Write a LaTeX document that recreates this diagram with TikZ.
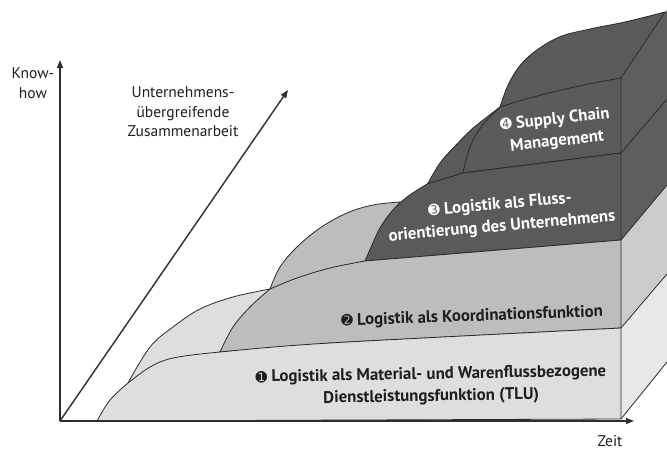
\documentclass[tikz,border=0pt]{standalone}
\usepackage{fontspec}
\setmainfont{PT Sans}
\newfontfamily\dejavu{DejaVu Sans}
\usetikzlibrary{arrows.meta}
\definecolor{lone}{HTML}{DEDEDE}
\definecolor{ltwo}{HTML}{BDBDBD}
\definecolor{ldark}{HTML}{5A5A5A}
\definecolor{sone}{HTML}{E8E8E8}
\definecolor{stwo}{HTML}{CBCBCB}
\definecolor{sdark}{HTML}{5E5E5E}
\definecolor{linec}{HTML}{2A2A2A}
\definecolor{axisc}{HTML}{2E2E2E}
\definecolor{txtc}{HTML}{1E1E1E}
\newcommand{\cnum}[1]{{\dejavu\fontsize{14}{14}\selectfont#1}}
\begin{document}
\begin{tikzpicture}[x=1pt,y=-1pt,
  edge/.style={draw=linec, line width=0.8pt, line join=round},
  sideline/.style={draw=linec, line width=0.8pt},
  axis/.style={draw=axisc, line width=1.4pt, -{Triangle[length=8pt,width=6pt]}},
  lab/.style={font=\fontsize{16.8}{22}\selectfont\bfseries, align=center, inner sep=0pt},
  axlab/.style={font=\fontsize{15.5}{19.5}\selectfont, align=center, inner sep=0pt, text=txtc}]
\useasboundingbox (0,0) rectangle (667,450);
\clip (0,0) rectangle (667,450);
% side face corners
\coordinate (s0a) at (621,419); \coordinate (s0b) at (667,362);
\coordinate (s1a) at (621,328); \coordinate (s1b) at (667,274);
\coordinate (s2a) at (621,240); \coordinate (s2b) at (667,185);
\coordinate (s3a) at (621,153); \coordinate (s3b) at (667,99);
\coordinate (s4a) at (621,78);  \coordinate (s4b) at (665,12);
% side faces
\fill[sone] (s0a) -- (s0b) -- (s1b) -- (s1a) -- cycle;
\fill[stwo] (s1a) -- (s1b) -- (s2b) -- (s2a) -- cycle;
\fill[sdark] (s2a) -- (s2b) -- (s3b) -- (s3a) -- cycle;
\fill[sdark] (s3a) -- (s3b) -- (667,10) -- (s4b) -- (s4a) -- cycle;
\draw[sideline] (s0a) -- (s0b);
\draw[sideline] (s1a) -- (s1b);
\draw[sideline] (s2a) -- (s2b);
\draw[sideline] (s3a) -- (s3b);
% layer 4 hump (top face)
\path[edge, fill=ldark] plot[smooth, tension=0.6] coordinates {(500,107) (510,81) (527,58) (557,38) (590,29) (625,22) (665,12)} -- (s4a) -- cycle;
% layer 3 hump
\path[edge, fill=ldark] plot[smooth, tension=0.6] coordinates {(427,185) (440,163) (456,145) (472,129) (487,117) (500,107)} -- (463,173) -- cycle;
% layer 4 front
\path[edge, fill=ldark] plot[smooth, tension=0.6] coordinates {(463,173) (466,160) (470,147) (477,133) (487,120) (500,107)} .. controls (540,94) and (580,85) .. (s4a) -- (s3a) -- cycle;
% layer 2 hump
\path[edge, fill=ltwo] plot[smooth, tension=0.6] coordinates {(270,289) (280,267) (297,247) (320,228) (347,213) (373,205) (400,202)} -- (365,261) -- cycle;
% layer 3 front
\path[edge, fill=ldark] plot[smooth, tension=0.6] coordinates {(365,261) (372,245) (380,228) (392,211) (407,197) (427,184)} -- (463,173) -- (s3a) -- (s2a) -- cycle;
% layer 1 hump
\path[edge, fill=lone] plot[smooth, tension=0.6] coordinates {(128,383) (150,347) (173,327) (200,309) (233,297) (270,289)} -- (220,352) -- cycle;
% layer 2 front
\path[edge, fill=ltwo] plot[smooth, tension=0.6] coordinates {(220,352) (233,327) (250,307) (270,289)} -- plot[smooth, tension=0.6] coordinates {(270,289) (297,278) (330,268) (365,261)} -- (s2a) -- (s1a) -- (330,343) -- cycle;
% layer 1 front
\path[edge, fill=lone] plot[smooth, tension=0.6] coordinates {(97,421) (110,400) (128,383)} -- plot[smooth, tension=0.5] coordinates {(128,383) (150,367) (173,358) (220,352) (330,343) (621,328)} -- (s0a) -- cycle;
% axes
\coordinate (O) at (60,421);
\coordinate (ytop) at (60,60);
\coordinate (xend) at (634,421);
\coordinate (dend) at (288,90);
\draw[axis] (O) -- (ytop);
\draw[axis] (O) -- (xend);
\draw[axis] (O) -- (dend);
% labels
\node[axlab] (kh) at (33,83) {Know-\\how};
\node[axlab] (ue) at (183,112) {Unternehmens-\\übergreifende\\Zusammenarbeit};
\node[axlab] (zt) at (610,441) {Zeit};
\node[lab, text=txtc, rotate=1] (t1) at (431,386) {\cnum{➊} Logistik als Material- und Warenflussbezogene\\Dienstleistungsfunktion (TLU)};
\node[lab, text=txtc, rotate=2] (t2) at (472,317) {\cnum{➋} Logistik als Koordinationsfunktion};
\node[lab, text=white, rotate=5] (t3) at (501,216) {\cnum{➌} Logistik als Fluss-\\orientierung des Unternehmens};
\node[lab, text=white, rotate=6] (t4) at (556,131) {\cnum{➍} Supply Chain\\Management};
\end{tikzpicture}
\end{document}
